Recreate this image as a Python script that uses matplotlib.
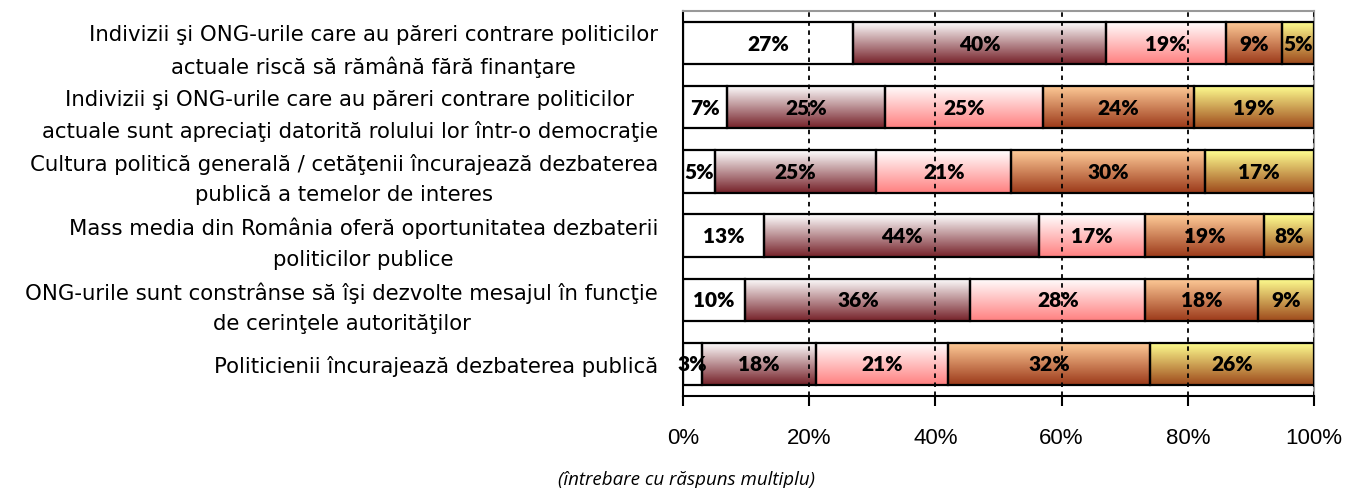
import numpy as np
import matplotlib
matplotlib.use("Agg")
from matplotlib import pyplot as plt
from matplotlib.colors import LinearSegmentedColormap

categories = [
    "Indivizii şi ONG-urile care au păreri contrare politicilor\nactuale riscă să rămână fără finanţare",
    "Indivizii şi ONG-urile care au păreri contrare politicilor\nactuale sunt apreciaţi datorită rolului lor într-o democraţie",
    "Cultura politică generală / cetăţenii încurajează dezbaterea\npublică a temelor de interes",
    "Mass media din România oferă oportunitatea dezbaterii\npoliticilor publice",
    "ONG-urile sunt constrânse să îşi dezvolte mesajul în funcţie\nde cerinţele autorităţilor",
    "Politicienii încurajează dezbaterea publică",
]
s1 = [27, 7, 5, 13, 10, 3]
s2 = [40, 25, 25, 44, 36, 18]
s3 = [19, 25, 21, 17, 28, 21]
s4 = [9, 24, 30, 19, 18, 32]
s5 = [5, 19, 17, 8, 9, 26]
xticks = [0, 20, 40, 60, 80, 100]
footnote = "(întrebare cu răspuns multiplu)"

series = [s1, s2, s3, s4, s5]
# top -> bottom gradient colours, None = no fill
grads = [
    None,
    ("#FFFFFF", "#76222A"),
    ("#FFFFFF", "#FF8080"),
    ("#FFCC99", "#9C3A1A"),
    ("#FFFF90", "#9E4A1C"),
]

vals = np.array(series, dtype=float)
pct = vals / vals.sum(axis=0) * 100  # 100% stacked

fig = plt.figure(figsize=(13.48, 4.89), dpi=100)
ax = fig.add_axes([683/1348, 1-397/489, (1314-683)/1348, (397-12)/489])

n = len(categories)
y = np.arange(n)[::-1]
left = np.zeros(n)
h = 0.66
for i, (p, raw) in enumerate(zip(pct, vals)):
    bars = ax.barh(y, p, left=left, height=h, color="none",
                   edgecolor="black", linewidth=1.6, zorder=3)
    for b, v in zip(bars, raw):
        x0, y0 = b.get_x(), b.get_y()
        w, hh = b.get_width(), b.get_height()
        if grads[i] is not None:
            cmap = LinearSegmentedColormap.from_list("g%d" % i, [grads[i][1], grads[i][0]])
            grad = np.linspace(0, 1, 64).reshape(-1, 1)
            im = ax.imshow(grad, cmap=cmap, aspect="auto", origin="lower",
                           extent=[x0, x0 + w, y0, y0 + hh], zorder=2,
                           interpolation="bicubic")
            im.set_clip_path(b)
        ax.text(x0 + w/2, y0 + hh/2, "%d%%" % v, ha="center", va="center",
                fontsize=15, fontweight="heavy", family="Lato", zorder=4)
    left += p

# dashed gridlines
ax.vlines(xticks[1:], -0.5, n - 0.5, colors="black", linewidth=1.3,
          linestyles=(0, (2.5, 2.5)), zorder=2.6)

ax.set_xlim(0, 100)
ax.set_ylim(-0.5, n - 0.5)
ax.set_xticks(xticks)
ax.set_xticklabels(["%d%%" % t for t in xticks],
                   family=["Liberation Sans Narrow", "Liberation Sans"], fontsize=16)
ax.tick_params(axis="x", length=7, width=1.5, pad=15, direction="out")
ax.set_yticks(y)
ax.set_yticklabels(categories, family="DejaVu Sans", fontsize=15.3, linespacing=1.65,
                   multialignment="center")
ax.tick_params(axis="y", length=0, pad=18)

for side in ["top", "right"]:
    ax.spines[side].set_color("#999999")
    ax.spines[side].set_linewidth(1.5)
for side in ["left", "bottom"]:
    ax.spines[side].set_color("black")
    ax.spines[side].set_linewidth(1.5)

fig.text(686/1348, 1-480/489, footnote, ha="center", va="center",
         family="Open Sans", style="italic", fontsize=13.5)

fig.savefig("out.png", dpi=100)
